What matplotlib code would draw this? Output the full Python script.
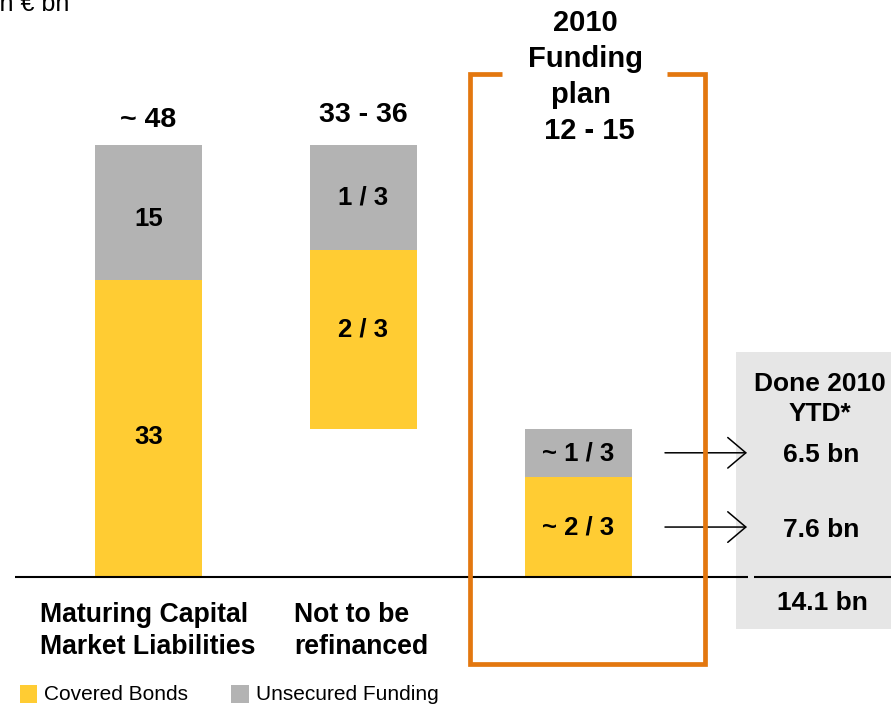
import matplotlib
matplotlib.use("Agg")
import matplotlib.pyplot as plt
from matplotlib.patches import Rectangle
from matplotlib.lines import Line2D

plt.rcParams['font.family'] = ['Liberation Sans', 'DejaVu Sans']

# ---------------- data ----------------
categories = ["Maturing Capital\nMarket Liabilities", "Not to be\nrefinanced", ""]
bar_base = [0, 16.5, 0]                 # floating start of each bar (€ bn)
covered = [33, 19.8, 11.1]              # Covered Bonds segment
unsecured = [15, 11.7, 5.4]             # Unsecured Funding segment
covered_labels = ["33", "2 / 3", "~ 2 / 3"]
unsecured_labels = ["15", "1 / 3", "~ 1 / 3"]
total_labels = ["~ 48", "33 - 36", "2010\nFunding\nplan \n 12 - 15"]
done_labels = ["6.5 bn", "7.6 bn"]     # unsecured, covered
done_total = "14.1 bn"

YELLOW = "#FFCC33"
GRAY = "#B3B3B3"
ORANGE = "#E3770F"
LIGHT = "#E6E6E6"

W, H = 891, 707
fig = plt.figure(figsize=(W / 100, H / 100), dpi=100)
ax = fig.add_axes([0, 0, 1, 1])
ax.axis("off")

# pixel <-> data mapping
X0, DX = 148.5, 215.0      # pixel centre of first category, spacing
Y0, DY = 577.0, 9.0        # pixel baseline, px per unit
ax.set_xlim((0 - X0) / DX, (W - X0) / DX)
ax.set_ylim((Y0 - H) / DY, (Y0 - 0) / DY)

def px(x):
    return (x - X0) / DX

def py(y):
    return (Y0 - y) / DY

pos = list(range(len(categories)))
bw = 0.5

# small label nudges (pixels, positive = down) for visual placement
cov_nudge = [8, -10, 0]
uns_nudge = [7, 0, 1]

# light grey "done" panel
ax.add_patch(Rectangle((px(736), py(629)), px(W + 5) - px(736), py(352) - py(629),
                       facecolor=LIGHT, edgecolor="none", zorder=0))

# bars
ax.bar(pos, covered, bw, bottom=bar_base, color=YELLOW, zorder=2)
ax.bar(pos, unsecured, bw, bottom=[b + c for b, c in zip(bar_base, covered)],
       color=GRAY, zorder=2)

# labels in segments
for i in pos:
    yc = bar_base[i] + covered[i] / 2 - cov_nudge[i] / DY
    yu = bar_base[i] + covered[i] + unsecured[i] / 2 - uns_nudge[i] / DY
    ax.text(i, yc, covered_labels[i], ha="center", va="center",
            fontsize=18.5, fontweight="bold", zorder=3)
    ax.text(i, yu, unsecured_labels[i], ha="center", va="center",
            fontsize=18.5, fontweight="bold", zorder=3)

# totals above bars 0 and 1
for i, off in zip((0, 1), (25, 30)):
    top = bar_base[i] + covered[i] + unsecured[i]
    ax.text(i, top + off / DY, total_labels[i], ha="center", va="center",
            fontsize=20.5, fontweight="bold")

# funding plan title
ax.text(px(585), py(77), total_labels[2], ha="center", va="center",
        fontsize=21, fontweight="bold", linespacing=1.36, zorder=5)

# orange bracket box
ox = [px(502), px(469.5), px(469.5), px(705), px(705), px(667)]
oy = [py(73.5), py(73.5), py(664), py(664), py(73.5), py(73.5)]
ax.add_line(Line2D(ox, oy, color=ORANGE, lw=3.4, solid_joinstyle="miter",
                   solid_capstyle="butt", zorder=6))

# baseline
ax.plot([px(15), px(748)], [0, 0], color="black", lw=1.5, zorder=4,
        solid_capstyle="butt")
ax.plot([px(754), px(W + 5)], [0, 0], color="black", lw=1.5, zorder=4,
        solid_capstyle="butt")

# arrows from funding plan segments to done values
seg_y = [covered[2] + unsecured[2] / 2, covered[2] / 2]
for yv, lab in zip(seg_y, done_labels):
    ax.annotate("", xy=(px(747), yv), xytext=(px(665), yv),
                arrowprops=dict(arrowstyle="->,head_length=0.65,head_width=0.55",
                                mutation_scale=20, lw=1.1, color="black",
                                shrinkA=0, shrinkB=0), zorder=5)
    ax.text(px(821), yv - 0.3, lab, ha="center", va="center",
            fontsize=19, fontweight="bold", zorder=3)

ax.text(px(820), py(399), "Done 2010\nYTD*", ha="center", va="center",
        fontsize=19, fontweight="bold", linespacing=1.28, zorder=3)
ax.text(px(822), py(603), done_total, ha="center", va="center",
        fontsize=19, fontweight="bold", zorder=3)

# category labels
ax.text(px(40), py(631), categories[0], ha="left", va="center",
        fontsize=19.2, fontweight="bold", linespacing=1.3)
ax.text(px(294), py(631), categories[1], ha="left", va="center",
        fontsize=19.2, fontweight="bold", linespacing=1.3)

# unit label (partly cut off at top, as in the original slide)
ax.text(px(-6), py(11), "in € bn", ha="left", va="baseline", fontsize=18)

# legend
ax.add_patch(Rectangle((px(20), py(703)), px(37) - px(20), py(685) - py(703),
                       facecolor=YELLOW, edgecolor="none"))
ax.text(px(44), py(695), "Covered Bonds", ha="left", va="center", fontsize=15)
ax.add_patch(Rectangle((px(231), py(703)), px(249) - px(231), py(685) - py(703),
                       facecolor=GRAY, edgecolor="none"))
ax.text(px(256), py(695), "Unsecured Funding", ha="left", va="center", fontsize=15)

fig.savefig("out.png", dpi=100)
